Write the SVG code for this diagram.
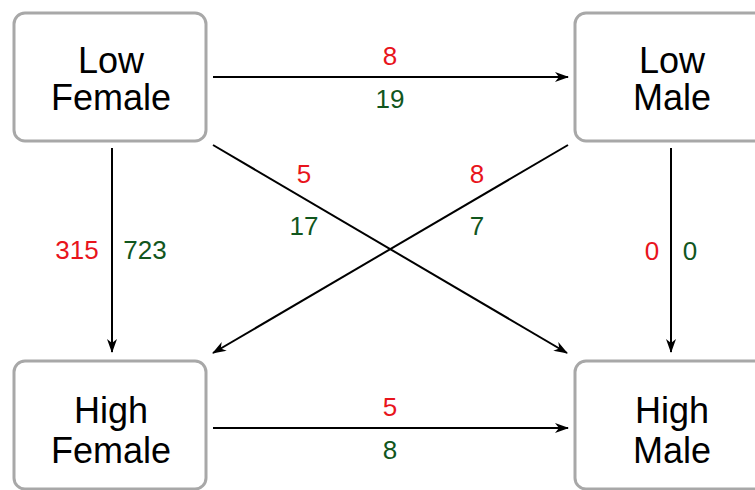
<svg xmlns="http://www.w3.org/2000/svg" width="755" height="490" viewBox="0 0 755 490">
<style>
.box{fill:#fff;stroke:#a8a8a8;stroke-width:3}
.nt{font-family:"Liberation Sans",Arial,sans-serif;font-size:36px;fill:#000;text-anchor:middle}
.edge{stroke:#000;stroke-width:2;fill:none;marker-end:url(#ah)}
.r{font-family:"Liberation Sans",Arial,sans-serif;font-size:26px;fill:#e8141c;text-anchor:middle}
.g{font-family:"Liberation Sans",Arial,sans-serif;font-size:26px;fill:#11561d;text-anchor:middle}
</style>
<defs>
<marker id="ah" viewBox="0 0 14 10" refX="13" refY="5" markerWidth="14" markerHeight="10" markerUnits="userSpaceOnUse" orient="auto">
<path d="M0,0 L14,5 L0,10 L4,5 Z" fill="#000"/>
</marker>
</defs>
<rect width="755" height="490" fill="#fff"/>
<g id="low-female">
<rect class="box" x="14" y="13" width="192" height="128" rx="11"/>
<text class="nt" x="111" y="73">Low</text>
<text class="nt" x="111" y="110">Female</text>
</g>
<g id="low-male">
<rect class="box" x="575" y="13" width="192" height="128" rx="11"/>
<text class="nt" x="672" y="73">Low</text>
<text class="nt" x="672" y="110">Male</text>
</g>
<g id="high-female">
<rect class="box" x="14" y="361" width="192" height="128" rx="11"/>
<text class="nt" x="111" y="423">High</text>
<text class="nt" x="111" y="463">Female</text>
</g>
<g id="high-male">
<rect class="box" x="575" y="361" width="192" height="128" rx="11"/>
<text class="nt" x="672" y="423">High</text>
<text class="nt" x="672" y="463">Male</text>
</g>
<g id="connectors">
<line class="edge" x1="213" y1="77" x2="568" y2="77"/>
<line class="edge" x1="213" y1="428" x2="568" y2="428"/>
<line class="edge" x1="112" y1="148" x2="112" y2="352"/>
<line class="edge" x1="671" y1="148" x2="671" y2="352"/>
<line class="edge" x1="213" y1="145" x2="567" y2="353"/>
<line class="edge" x1="568" y1="145" x2="213" y2="353"/>
</g>
<g id="labels">
<text class="r" x="390" y="65">8</text>
<text class="g" x="390" y="108">19</text>
<text class="r" x="390" y="416">5</text>
<text class="g" x="390" y="459">8</text>
<text class="r" x="77" y="259">315</text>
<text class="g" x="145" y="259">723</text>
<text class="r" x="652" y="260">0</text>
<text class="g" x="690" y="260">0</text>
<text class="r" x="304" y="183">5</text>
<text class="g" x="304" y="235">17</text>
<text class="r" x="477" y="183">8</text>
<text class="g" x="477" y="235">7</text>
</g>
</svg>
